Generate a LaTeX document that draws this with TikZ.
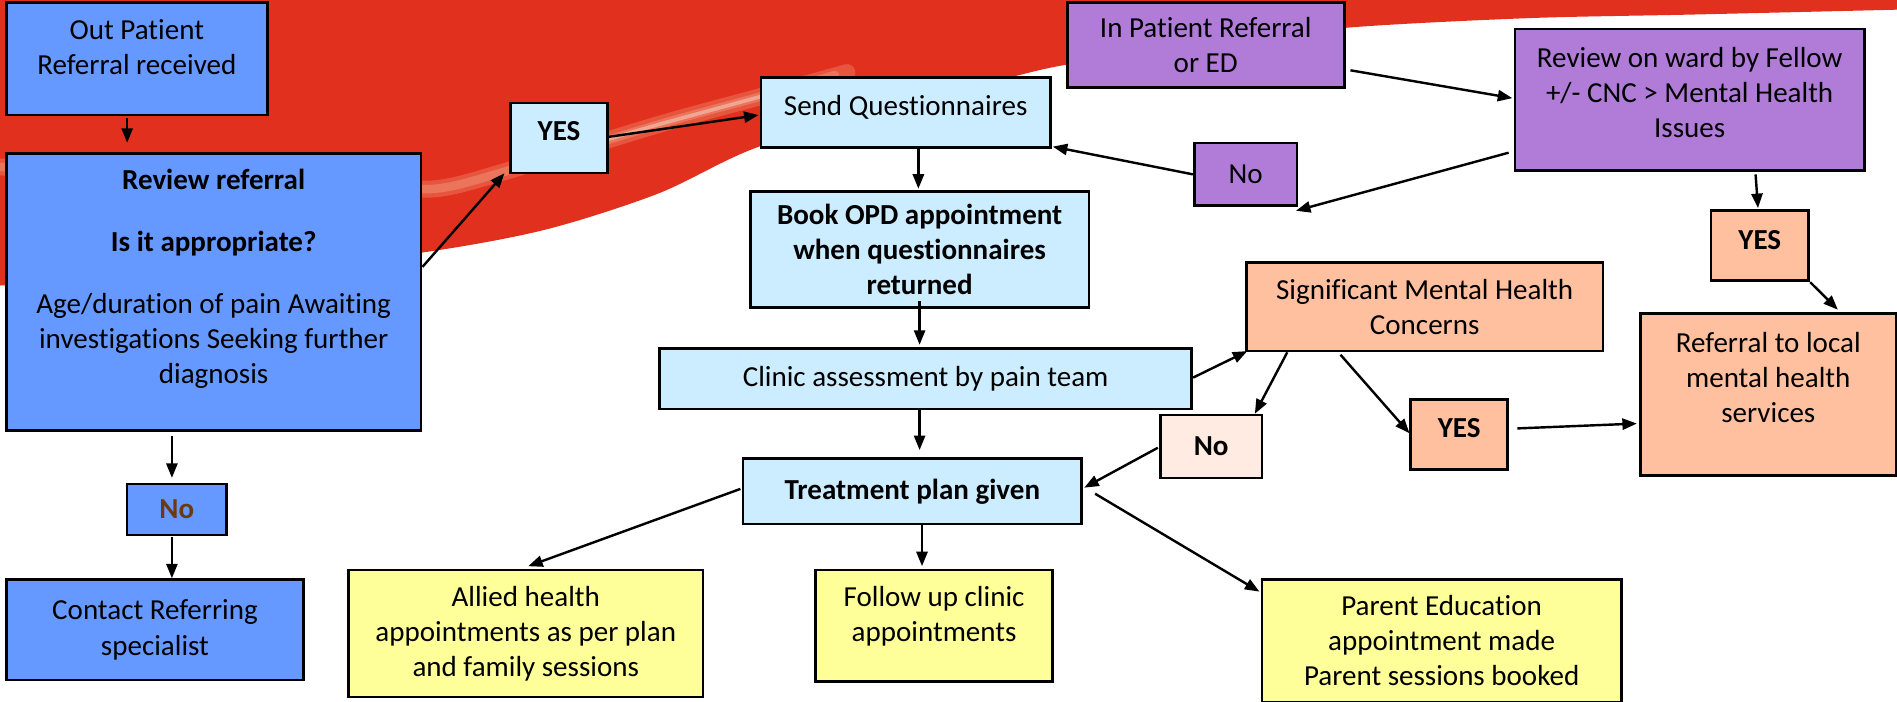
\documentclass[tikz,border=0pt]{standalone}
\usepackage{fontspec}
\setmainfont{Carlito}[Ligatures=NoCommon]
\usetikzlibrary{arrows.meta,calc}
\definecolor{bluebox}{HTML}{6699FF}
\definecolor{lightblue}{HTML}{CCECFF}
\definecolor{purplebox}{HTML}{B07CD8}
\definecolor{salmonbox}{HTML}{FFC09F}
\definecolor{palesalmon}{HTML}{FFEBE1}
\definecolor{yellowbox}{HTML}{FFFF99}
\definecolor{swoosh}{HTML}{E2301F}
\definecolor{swooshlight}{HTML}{EE8466}
\definecolor{nobrown}{HTML}{6B3A10}
\begin{document}
\begin{tikzpicture}[x=0.5pt,y=-0.5pt,
  txt/.style={align=center,font=\fontsize{12}{14.5}\selectfont,text=black},
  box/.style={draw=black,line width=1.1pt,anchor=north west,inner sep=1pt,txt},
  bfbox/.style={box,font=\fontsize{12}{14.5}\selectfont\bfseries},
  lab/.style={txt},
  arr/.style={line width=1pt,-{Triangle[length=6pt,width=4.6pt]}}]
\useasboundingbox (0,0) rectangle (1568,580);
\fill[white] (0,0) rectangle (1568,580);
% red swoosh background
\fill[swoosh] (0,0) -- (1568,0) -- (1568,8)
  -- plot[smooth] coordinates {(1568,8) (1400,12) (1263,15) (1112,23) (990,38) (868,56) (750,88) (628,121) (544,160) (450,190) (347,209) (200,225) (0,236)}
  -- cycle;
\draw[swooshlight,line width=7pt,opacity=0.45,line cap=round]
  plot[smooth] coordinates {(0,138) (150,142) (300,152) (360,156) (420,141) (544,103) (628,80) (700,60)};
\draw[swooshlight,line width=3.5pt,opacity=0.7,line cap=round]
  plot[smooth] coordinates {(0,138) (150,142) (300,152) (360,156) (420,141) (544,103) (628,80) (690,62)};
\draw[white,line width=1.5pt,opacity=0.35,line cap=round]
  plot[smooth] coordinates {(500,116) (544,103) (628,80) (680,65)};

% boxes
\node[box,fill=bluebox,minimum width=108pt,minimum height=46.5pt,
  label={[lab,yshift=5pt]center:{Out Patient\\Referral received}}] (op) at (4,1) {};
\node[box,fill=bluebox,minimum width=171.5pt,minimum height=114.5pt,
  label={[lab,yshift=5.5pt]center:{\textbf{Review referral}\\[11pt]\textbf{Is it appropriate?}\\[11pt]Age/duration of pain Awaiting\\investigations Seeking further\\diagnosis}}] (rev) at (4,126) {};
\node[box,fill=lightblue,minimum width=40pt,minimum height=29pt,
  label={[lab,font=\fontsize{12}{14.5}\selectfont\bfseries,yshift=3pt]center:YES}] (yes1) at (421,84) {};
\node[box,fill=lightblue,minimum width=119.5pt,minimum height=29pt,
  label={[lab,yshift=2pt]center:Send Questionnaires}] (sq) at (628,63) {};
\node[bfbox,fill=lightblue,minimum width=140pt,minimum height=48pt] (book) at (619,157) {Book OPD appointment\\when questionnaires\\returned};
\node[box,fill=lightblue,minimum width=220pt,minimum height=25pt] (clinic) at (544,287) {Clinic assessment by pain team};
\node[bfbox,fill=lightblue,minimum width=140pt,minimum height=27pt] (treat) at (613,378) {Treatment plan given};
\node[box,fill=yellowbox,minimum width=146.5pt,minimum height=52.5pt] (allied) at (287,470) {Allied health\\appointments as per plan\\and family sessions};
\node[box,fill=yellowbox,minimum width=98pt,minimum height=46pt,
  label={[lab,yshift=4pt]center:{Follow up clinic\\appointments}}] (follow) at (673,470) {};
\node[box,fill=yellowbox,minimum width=148.5pt,minimum height=50.5pt] (parent) at (1042,478) {Parent Education\\appointment made\\Parent sessions booked};
\node[bfbox,fill=bluebox,text=nobrown,minimum width=41pt,minimum height=21pt] (noblue) at (104,399) {No};
\node[box,fill=bluebox,minimum width=123pt,minimum height=41.5pt] (contact) at (4,478) {Contact Referring\\specialist};
\node[box,fill=purplebox,minimum width=114.5pt,minimum height=35pt] (inpat) at (881,1) {In Patient Referral\\or ED};
\node[box,fill=purplebox,minimum width=144.5pt,minimum height=58.5pt,
  label={[lab,yshift=3pt]center:{Review on ward by Fellow\\+/- CNC > Mental Health\\Issues}}] (ward) at (1251,23) {};
\node[box,fill=purplebox,minimum width=42.5pt,minimum height=26pt] (nopurple) at (986,117) {No};
\node[box,fill=salmonbox,minimum width=40.5pt,minimum height=29pt,
  label={[lab,font=\fontsize{12}{14.5}\selectfont\bfseries,yshift=2.5pt]center:YES}] (yes2) at (1413,173) {};
\node[box,fill=salmonbox,minimum width=105.5pt,minimum height=67pt,
  label={[lab,yshift=7pt]center:{Referral to local\\mental health\\services}}] (reflocal) at (1355,258) {};
\node[box,fill=salmonbox,minimum width=147.5pt,minimum height=36.5pt] (smh) at (1029,216) {Significant Mental Health\\Concerns};
\node[bfbox,fill=palesalmon,minimum width=42pt,minimum height=26pt] (nolight) at (958,342) {No};
\node[box,fill=salmonbox,minimum width=40pt,minimum height=29pt,
  label={[lab,font=\fontsize{12}{14.5}\selectfont\bfseries,yshift=2.5pt]center:YES}] (yes3) at (1165,329) {};

% connectors
\draw[arr] ($(op.south)+(-8,1)$) -- ($(op.south |- rev.north)+(-8,-8)$);
\draw[arr] ($(noblue.north |- rev.south)+(-4,3)$) -- ($(noblue.north)+(-4,-4)$);
\draw[arr] ($(noblue.south)+(-4,1)$) -- ($(noblue.south |- contact.north)+(-4,0)$);
\draw[arr] ($(rev.east)+(0,-21)$) -- ($(yes1.south west)+(-4,-1)$);
\draw[arr] ($(yes1.east)+(0,-1)$) -- ($(sq.west)+(-1,2)$);
\draw[arr] ($(book.north |- sq.south)+(-1,-2)$) -- ($(book.north)+(-1,-1)$);
\draw[arr] ($(book.south)+(0,-6)$) -- ($(book.south |- clinic.north)+(0,-2)$);
\draw[arr] ($(clinic.south)+(-5,-2)$) -- ($(clinic.south |- treat.north)+(-5,-6)$);
\draw[arr] ($(treat.south)+(8,0)$) -- ($(treat.south |- follow.north)+(8,-2)$);
\draw[arr] ($(treat.west)+(-1,-2)$) -- ($(allied.north)+(2,-2)$);
\draw[arr] ($(treat.east)+(10,2)$) -- ($(parent.north west)+(-1,11)$);
\draw[arr] ($(nolight.west)+(-1,1)$) -- ($(treat.east)+(1,-3)$);
\draw[arr] ($(clinic.east)+(0,-1)$) -- ($(smh.south west)+(2,-1)$);
\draw[arr] ($(smh.south west)+(35,0)$) -- ($(nolight.north east)+(-7,0)$);
\draw[arr] ($(smh.south west)+(79,2)$) -- ($(yes3.west)+(0,-1)$);
\draw[arr] ($(yes3.east)+(7,-5)$) -- ($(reflocal.west)+(-2,24)$);
\draw[arr] ($(inpat.east)+(4,21)$) -- ($(ward.west)+(-1,-1.5)$);
\draw[arr] ($(ward.south west)+(-4,-16)$) -- ($(nopurple.south east)+(-2,3)$);
\draw[arr] (nopurple.west) -- ($(sq.south east)+(1,-2)$);
\draw[arr] ($(ward.south)+(54.5,2)$) -- ($(yes2.north)+(-1.5,-1)$);
\draw[arr] (yes2.south east) -- ($(reflocal.north)+(57.5,-2)$);
\end{tikzpicture}
\end{document}
